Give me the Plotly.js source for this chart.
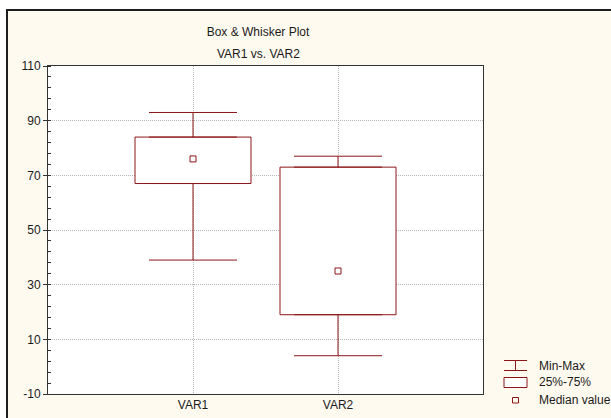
<!DOCTYPE html>
<html>
<head>
<meta charset="utf-8">
<script src="https://cdn.plot.ly/plotly-3.0.1.min.js"></script>
<style>
  html, body { margin: 0; padding: 0; background: #ffffff; overflow: hidden; }
  #frame { position: absolute; left: 6px; top: 9px; width: 603px; height: 407px;
           border-left: 2px solid #1e1e1e; border-top: 2px solid #1e1e1e; background: #fffaf0; }
  #chart { width: 603px; height: 407px; }
</style>
</head>
<body>
<div id="frame"><div id="chart"></div></div>
<script>
// ---- data ----
const categories = ['VAR1', 'VAR2'];
const minVals    = [39, 4];
const q1Vals     = [67, 19];
const medianVals = [76, 35];
const q3Vals     = [84, 73];
const maxVals    = [93, 77];
const legendLabels = ['Min-Max', '25%-75%', 'Median value'];
const titleLines = ['Box & Whisker Plot', 'VAR1 vs. VAR2'];
const yTickVals   = [-10, 10, 30, 50, 70, 90, 110];
const yTickLabels = ['-10', '10', '30', '50', '70', '90', '110'];

// ---- styling ----
const RED = '#8c1616';
const FONT = 'Liberation Sans, Arial, sans-serif';
const TXT = '#1a1a1a';
const GRID = '#b8b8b8';

// page-pixel -> paper helpers (plot area: x 48..483, y 66..394 on page)
const PL = 48, PR = 483, PT = 66, PB = 394;
const px = p => (p - PL) / (PR - PL);
const py = p => (PB - p) / (PB - PT);

const zeros = categories.map(() => 0);

const traces = [
  { // 25%-75% boxes
    type: 'bar', x: categories, base: q1Vals,
    y: q3Vals.map((v, i) => v - q1Vals[i]),
    width: 0.8,
    marker: { color: '#ffffff', line: { color: RED, width: 1 } },
    showlegend: false, hoverinfo: 'skip'
  },
  { // upper whisker
    type: 'scatter', mode: 'markers', x: categories, y: q3Vals,
    marker: { size: 1, color: 'rgba(0,0,0,0)' },
    error_y: { type: 'data', symmetric: false,
      array: maxVals.map((v, i) => v - q3Vals[i]), arrayminus: zeros,
      color: RED, thickness: 1, width: 44 },
    showlegend: false, hoverinfo: 'skip'
  },
  { // lower whisker
    type: 'scatter', mode: 'markers', x: categories, y: q1Vals,
    marker: { size: 1, color: 'rgba(0,0,0,0)' },
    error_y: { type: 'data', symmetric: false,
      array: zeros, arrayminus: q1Vals.map((v, i) => v - minVals[i]),
      color: RED, thickness: 1, width: 44 },
    showlegend: false, hoverinfo: 'skip'
  },
  { // medians
    type: 'scatter', mode: 'markers', x: categories, y: medianVals,
    marker: { symbol: 'square-open', size: 6, color: RED, line: { width: 1, color: RED } },
    showlegend: false, hoverinfo: 'skip'
  }
];

const shapes = [
  // legend: Min-Max icon
  { type: 'line', xref: 'paper', yref: 'paper', x0: px(504), x1: px(527), y0: py(360.5), y1: py(360.5), line: { color: RED, width: 1 } },
  { type: 'line', xref: 'paper', yref: 'paper', x0: px(504), x1: px(527), y0: py(370.5), y1: py(370.5), line: { color: RED, width: 1 } },
  { type: 'line', xref: 'paper', yref: 'paper', x0: px(515.5), x1: px(515.5), y0: py(360.5), y1: py(370.5), line: { color: RED, width: 1 } },
  // legend: box icon
  { type: 'rect', xref: 'paper', yref: 'paper', x0: px(504), x1: px(527), y0: py(377.5), y1: py(387.5), fillcolor: '#ffffff', line: { color: RED, width: 1 } },
  // legend: median icon
  { type: 'rect', xref: 'paper', yref: 'paper', x0: px(512.5), x1: px(518.5), y0: py(397.5), y1: py(403), fillcolor: 'rgba(0,0,0,0)', line: { color: RED, width: 1 } }
];

const legendY = [366, 382, 400];
const annotations = legendLabels.map((t, i) => ({
  text: t, xref: 'paper', yref: 'paper', x: px(537), y: py(legendY[i]),
  xanchor: 'left', yanchor: 'middle', showarrow: false,
  font: { family: FONT, size: 12, color: TXT }
}));
annotations.push({
  text: titleLines[1], xref: 'paper', yref: 'paper', x: px(258), y: py(53.5),
  xanchor: 'center', yanchor: 'middle', showarrow: false,
  font: { family: FONT, size: 12, color: TXT }
});

const layout = {
  width: 603, height: 407,
  margin: { l: 40, r: 128, t: 55, b: 24 },
  paper_bgcolor: '#fffaf0',
  plot_bgcolor: '#ffffff',
  showlegend: false,
  title: {
    text: titleLines[0], xref: 'container', yref: 'container',
    x: (258 - 8) / 603, y: 1 - (32 - 11) / 407, xanchor: 'center', yanchor: 'middle',
    font: { family: FONT, size: 12, color: TXT }
  },
  xaxis: {
    type: 'category', range: [-1, 2],
    showline: true, linecolor: '#333', linewidth: 1, mirror: true,
    showgrid: true, gridcolor: GRID, griddash: '1px,1px', gridwidth: 1,
    ticks: '', zeroline: false,
    tickfont: { family: FONT, size: 12, color: TXT }
  },
  yaxis: {
    range: [-10, 110], tickmode: 'array', tickvals: yTickVals, ticktext: yTickLabels,
    showline: true, linecolor: '#333', linewidth: 1, mirror: true,
    showgrid: true, gridcolor: GRID, griddash: '1px,1px', gridwidth: 1,
    ticks: 'outside', ticklen: 4, tickcolor: '#333', zeroline: false,
    minor: { tickmode: 'linear', tick0: -10, dtick: 4, ticks: 'inside', ticklen: 3, tickcolor: '#333', showgrid: false },
    tickfont: { family: FONT, size: 12, color: TXT }
  },
  yaxis2: {
    overlaying: 'y', side: 'right', range: [-10, 110], tick0: -10, dtick: 20,
    showticklabels: false, showgrid: false, zeroline: false, ticks: '',
    minor: { tick0: -10, dtick: 4, ticks: 'inside', ticklen: 3, tickcolor: '#333', showgrid: false }
  },
  shapes: shapes,
  annotations: annotations
};

Plotly.newPlot('chart', traces, layout, { staticPlot: true, displayModeBar: false });
</script>
</body>
</html>
